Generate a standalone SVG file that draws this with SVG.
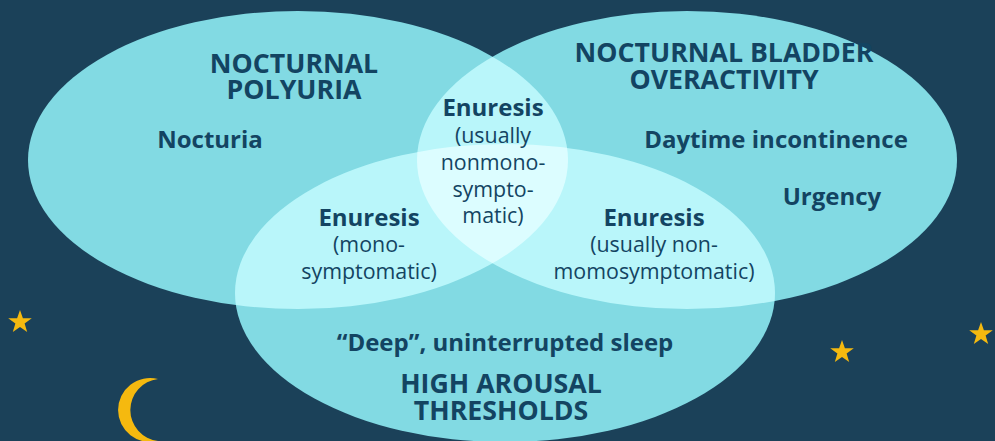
<svg xmlns="http://www.w3.org/2000/svg" width="995" height="441" viewBox="0 0 995 441">
<style>
text{font-family:"Open Sans","Noto Sans","Liberation Sans",sans-serif;fill:#134462;text-anchor:middle}
.t{font-size:26.7px;font-weight:700}
.b{font-size:24px;font-weight:700}
.r{font-size:21.4px;font-weight:400}
.base{fill:#82dae3}
.two{fill:#b9f6fa}
.three{fill:#dcfdff}
.gold{fill:#f5b90f}
</style>
<defs>
<clipPath id="cl"><ellipse cx="298" cy="160" rx="270" ry="149"/></clipPath>
<clipPath id="cr"><ellipse cx="687" cy="160" rx="270" ry="149"/></clipPath>
<clipPath id="cb"><ellipse cx="505" cy="293" rx="270" ry="149"/></clipPath>
<polygon id="star" points="0,-12 2.9,-3.8 11.8,-3.7 4.6,1.6 7.2,9.9 0,5 -7.2,9.9 -4.6,1.6 -11.8,-3.7 -2.9,-3.8"/>
</defs>
<rect width="995" height="441" fill="#1b4159"/>
<g id="venn">
<ellipse class="base" cx="298" cy="160" rx="270" ry="149"/>
<ellipse class="base" cx="687" cy="160" rx="270" ry="149"/>
<ellipse class="base" cx="505" cy="293" rx="270" ry="149"/>
<g clip-path="url(#cl)"><ellipse class="two" cx="687" cy="160" rx="270" ry="149"/></g>
<g clip-path="url(#cl)"><ellipse class="two" cx="505" cy="293" rx="270" ry="149"/></g>
<g clip-path="url(#cr)"><ellipse class="two" cx="505" cy="293" rx="270" ry="149"/></g>
<g clip-path="url(#cl)"><g clip-path="url(#cr)"><ellipse class="three" cx="505" cy="293" rx="270" ry="149"/></g></g>
</g>
<g id="node-polyuria">
<text class="t" x="294" y="73">NOCTURNAL</text>
<text class="t" x="294" y="99">POLYURIA</text>
<text class="b" x="210" y="148">Nocturia</text>
</g>
<g id="node-overactivity">
<text class="t" x="724" y="62">NOCTURNAL BLADDER</text>
<text class="t" x="724" y="89">OVERACTIVITY</text>
<text class="b" x="776" y="148">Daytime incontinence</text>
<text class="b" x="832" y="205">Urgency</text>
</g>
<g id="node-center">
<text class="b" x="493" y="116">Enuresis</text>
<text class="r" x="493" y="143">(usually</text>
<text class="r" x="493" y="170">nonmono-</text>
<text class="r" x="493" y="197">sympto-</text>
<text class="r" x="493" y="223">matic)</text>
</g>
<g id="node-mono">
<text class="b" x="369" y="226">Enuresis</text>
<text class="r" x="369" y="252">(mono-</text>
<text class="r" x="369" y="279">symptomatic)</text>
</g>
<g id="node-nonmono">
<text class="b" x="654" y="226">Enuresis</text>
<text class="r" x="654" y="252">(usually non-</text>
<text class="r" x="654" y="279">momosymptomatic)</text>
</g>
<g id="node-arousal">
<text class="b" x="505" y="351">“Deep”, uninterrupted sleep</text>
<text class="t" x="501" y="393">HIGH AROUSAL</text>
<text class="t" x="501" y="420">THRESHOLDS</text>
</g>
<g id="decor">
<use href="#star" class="gold" x="20" y="322"/>
<use href="#star" class="gold" x="842" y="352"/>
<use href="#star" class="gold" x="981" y="334"/>
<path class="gold" d="M158 379A32 32 0 1 0 158 441A31.2 31.2 0 0 1 158 379Z"/>
</g>
</svg>
